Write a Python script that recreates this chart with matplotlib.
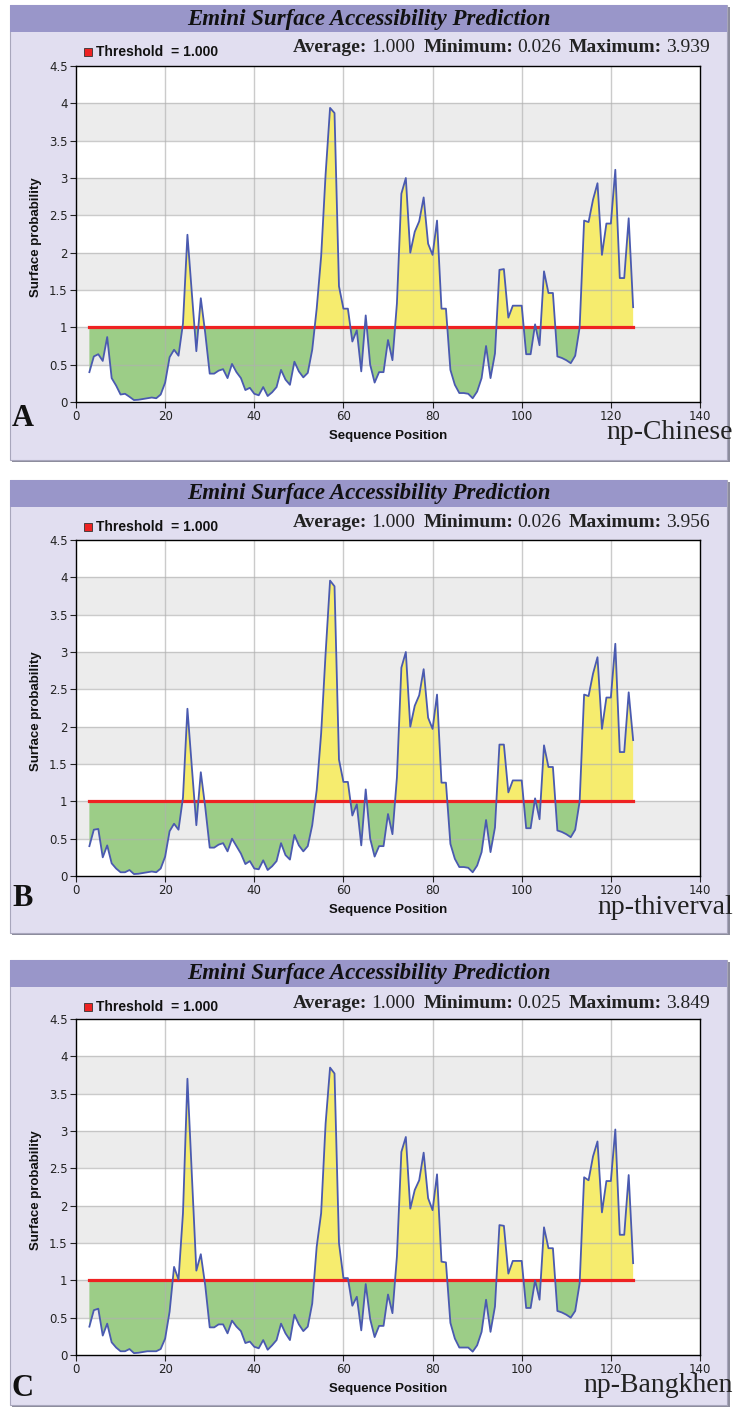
import matplotlib.pyplot as plt
from matplotlib.patches import Rectangle

# sequence positions shown in every panel
positions = list(range(3, 126))

# Emini surface probability, one value per position (3..125)
chinese = [0.40, 0.61, 0.64, 0.55, 0.87, 0.32, 0.22, 0.10, 0.11, 0.07,
           0.026, 0.03, 0.04, 0.05, 0.06, 0.05, 0.10, 0.26, 0.60, 0.70,
           0.62, 1.05, 2.24, 1.45, 0.68, 1.39, 0.92, 0.38, 0.38, 0.42,
           0.44, 0.32, 0.51, 0.40, 0.32, 0.16, 0.19, 0.11, 0.09, 0.20,
           0.08, 0.13, 0.20, 0.43, 0.30, 0.23, 0.54, 0.41, 0.33, 0.39,
           0.70, 1.25, 1.95, 3.05, 3.939, 3.87, 1.55, 1.25, 1.25, 0.81,
           0.96, 0.41, 1.16, 0.50, 0.26, 0.40, 0.40, 0.83, 0.56, 1.32,
           2.79, 3.00, 2.00, 2.28, 2.42, 2.74, 2.12, 1.97, 2.43, 1.25,
           1.25, 0.43, 0.23, 0.12, 0.12, 0.11, 0.05, 0.14, 0.32, 0.75,
           0.32, 0.65, 1.77, 1.78, 1.13, 1.29, 1.29, 1.29, 0.64, 0.64,
           1.04, 0.76, 1.75, 1.46, 1.46, 0.61, 0.59, 0.56, 0.52, 0.62,
           1.00, 2.43, 2.41, 2.71, 2.93, 1.97, 2.39, 2.39, 3.11, 1.66,
           1.66, 2.46, 1.27]

thiverval = [0.40, 0.62, 0.63, 0.25, 0.41, 0.17, 0.10, 0.05, 0.05, 0.08,
             0.026, 0.03, 0.04, 0.05, 0.06, 0.05, 0.10, 0.26, 0.60, 0.70,
             0.62, 1.05, 2.24, 1.45, 0.68, 1.39, 0.92, 0.38, 0.38, 0.42,
             0.44, 0.33, 0.50, 0.40, 0.30, 0.16, 0.20, 0.10, 0.09, 0.21,
             0.08, 0.13, 0.20, 0.44, 0.28, 0.22, 0.55, 0.41, 0.33, 0.40,
             0.68, 1.15, 1.91, 2.98, 3.956, 3.88, 1.56, 1.26, 1.26, 0.81,
             0.96, 0.41, 1.16, 0.50, 0.26, 0.40, 0.40, 0.83, 0.56, 1.32,
             2.79, 3.00, 2.00, 2.28, 2.42, 2.77, 2.12, 1.97, 2.43, 1.25,
             1.25, 0.43, 0.23, 0.12, 0.12, 0.11, 0.05, 0.14, 0.32, 0.75,
             0.32, 0.65, 1.76, 1.76, 1.12, 1.28, 1.28, 1.28, 0.64, 0.64,
             1.04, 0.76, 1.75, 1.46, 1.46, 0.61, 0.59, 0.56, 0.52, 0.62,
             1.00, 2.43, 2.41, 2.71, 2.93, 1.97, 2.39, 2.39, 3.11, 1.66,
             1.66, 2.46, 1.82]

bangkhen = [0.38, 0.60, 0.62, 0.26, 0.42, 0.17, 0.10, 0.05, 0.05, 0.08,
            0.025, 0.03, 0.04, 0.05, 0.05, 0.05, 0.08, 0.22, 0.58, 1.18,
            1.01, 1.90, 3.70, 2.40, 1.13, 1.35, 0.93, 0.37, 0.37, 0.41,
            0.41, 0.29, 0.46, 0.38, 0.32, 0.16, 0.18, 0.11, 0.09, 0.20,
            0.07, 0.13, 0.20, 0.42, 0.29, 0.20, 0.54, 0.41, 0.32, 0.38,
            0.69, 1.45, 1.90, 3.10, 3.849, 3.77, 1.50, 1.03, 1.03, 0.66,
            0.78, 0.33, 0.95, 0.48, 0.24, 0.39, 0.39, 0.81, 0.56, 1.32,
            2.72, 2.92, 1.96, 2.21, 2.34, 2.71, 2.10, 1.94, 2.42, 1.25,
            1.24, 0.43, 0.22, 0.10, 0.10, 0.10, 0.045, 0.13, 0.31, 0.74,
            0.31, 0.65, 1.74, 1.73, 1.09, 1.26, 1.26, 1.26, 0.63, 0.63,
            1.00, 0.74, 1.71, 1.43, 1.43, 0.59, 0.57, 0.54, 0.50, 0.59,
            0.96, 2.38, 2.34, 2.66, 2.86, 1.91, 2.33, 2.33, 3.02, 1.61,
            1.61, 2.41, 1.23]

series = [chinese, thiverval, bangkhen]
names = ['np-Chinese', 'np-thiverval', 'np-Bangkhen']
letters = ['A', 'B', 'C']
threshold = 1.0
averages = [1.000, 1.000, 1.000]
minimums = [0.026, 0.026, 0.025]
maximums = [3.939, 3.956, 3.849]
xticks = [0, 20, 40, 60, 80, 100, 120, 140]
yticks = [0, 0.5, 1, 1.5, 2, 2.5, 3, 3.5, 4, 4.5]

W, H = 734, 1410
fig = plt.figure(figsize=(W / 100, H / 100), dpi=100)
fig.patch.set_facecolor('white')
renderer = fig.canvas.get_renderer()


def fx(px):
    return px / W


def fy(py):
    return 1 - py / H


serif = ['Liberation Serif', 'DejaVu Serif']
sans = ['Liberation Sans', 'DejaVu Sans']

panel_top = [5, 480, 960]
panel_bot = [460, 933, 1405]
plot_top = [66, 540, 1019]
plot_bot = [402, 876, 1355]
letter_dy = [16, 22, 33]
name_dy = [31, 31, 31]

for k in range(3):
    top, bot = panel_top[k], panel_bot[k]
    # panel frame with a little shadow
    fig.add_artist(Rectangle((fx(12), fy(bot + 2)), fx(718), (bot - top) / H, zorder=-3,
                             transform=fig.transFigure, facecolor='#8c8c9c', edgecolor='none'))
    fig.add_artist(Rectangle((fx(10), fy(bot)), fx(717), (bot - top) / H, zorder=-2,
                             transform=fig.transFigure, facecolor='#e1def0', edgecolor='#a8a6bc', lw=0.8))
    fig.add_artist(Rectangle((fx(10), fy(top + 27)), fx(717), 27 / H, zorder=-1,
                             transform=fig.transFigure, facecolor='#9996c9', edgecolor='none'))
    fig.text(fx(369), fy(top + 14), 'Emini Surface Accessibility Prediction', family=serif,
             fontsize=16.5, fontweight='bold', style='italic', ha='center', va='center', color='#111111')

    # legend for threshold
    fig.add_artist(Rectangle((fx(84), fy(top + 51)), fx(8), 8 / H, transform=fig.transFigure,
                             facecolor='#ee2222', edgecolor='#333333', lw=0.6))
    fig.text(fx(96), fy(top + 47), 'Threshold  = %.3f' % threshold, family=sans, fontsize=10,
             fontweight='bold', ha='left', va='center', color='#111111')

    # statistics line
    x = 293
    for lab, val in [('Average:', averages[k]), ('Minimum:', minimums[k]), ('Maximum:', maximums[k])]:
        t = fig.text(fx(x), fy(top + 43), lab, family=serif, fontsize=14, fontweight='bold',
                     ha='left', va='center', color='#222222')
        x = t.get_window_extent(renderer).x1 + 4
        t = fig.text(fx(x), fy(top + 43), '%.3f' % val, family=serif, fontsize=14,
                     ha='left', va='center', color='#222222')
        x = t.get_window_extent(renderer).x1 + 8

    pt, pb = plot_top[k], plot_bot[k]
    ax = fig.add_axes([fx(76), fy(pb), fx(624), (pb - pt) / H])
    ax.set_zorder(2)
    ax.set_facecolor('white')
    for i in range(len(yticks) - 1):
        if i % 2 == 1:
            ax.axhspan(yticks[i], yticks[i + 1], color='#ececec', zorder=0, lw=0)

    vals = series[k]
    ax.fill_between(positions, vals, threshold, where=[v >= threshold for v in vals],
                    interpolate=True, color='#f6ec6e', lw=0, zorder=1)
    ax.fill_between(positions, vals, threshold, where=[v <= threshold for v in vals],
                    interpolate=True, color='#9ccd87', lw=0, zorder=1)
    for yv in yticks[1:-1]:
        ax.axhline(yv, color='#b0b0b0', lw=1.0, alpha=0.65, zorder=2)
    for xv in xticks[1:-1]:
        ax.axvline(xv, color='#b0b0b0', lw=1.0, alpha=0.65, zorder=2)
    ax.plot([positions[0], positions[-1]], [threshold, threshold], color='#ee2222', lw=2.3, zorder=3)
    ax.plot(positions, vals, color='#4a5ab0', lw=1.3, zorder=4)

    ax.set_xlim(0, 140)
    ax.set_ylim(0, 4.5)
    ax.set_xticks(xticks)
    ax.set_yticks(yticks)
    ax.set_yticklabels(['%g' % v for v in yticks])
    ax.tick_params(direction='out', length=4, width=0.8, labelsize=8.5, colors='#222222',
                   pad=2)
    for s in ax.spines.values():
        s.set_color('black')
        s.set_linewidth(1.0)

    fig.text(fx(36), fy((pt + pb) / 2 + 3), 'Surface probability', family=sans, fontsize=9.5,
             fontweight='bold', rotation=90, ha='center', va='center', color='#111111')
    fig.text(fx(388), fy(pb + 34), 'Sequence Position', family=sans, fontsize=9.5,
             fontweight='bold', ha='center', va='center', color='#111111')
    fig.text(fx(12), fy(pb + letter_dy[k]), letters[k], family=serif, fontsize=22,
             fontweight='bold', ha='left', va='center', color='#111111')
    fig.text(fx(733), fy(pb + name_dy[k]), names[k], family=serif, fontsize=20,
             ha='right', va='center', color='#222222')

fig.savefig('out.png', dpi=100)
